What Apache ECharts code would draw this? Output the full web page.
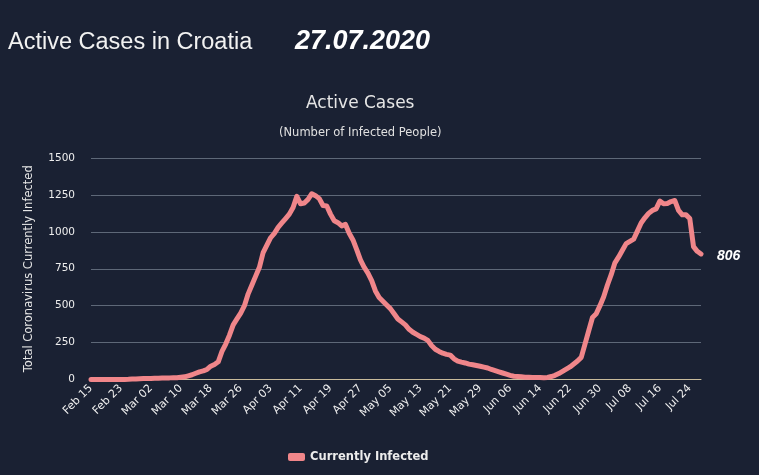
<!DOCTYPE html>
<html>
<head>
<meta charset="utf-8">
<script src="https://cdn.jsdelivr.net/npm/echarts@6/dist/echarts.min.js"></script>
<style>
html,body{margin:0;padding:0;background:#1a2133;}
#chart{width:759px;height:475px;}
</style>
</head>
<body>
<div id="chart"></div>
<script>
// Dates: daily from Feb 15 2020 to Jul 27 2020
const startDate = '2020-02-15';
const dayCount = 164;
const monthNames = ['Jan','Feb','Mar','Apr','May','Jun','Jul','Aug','Sep','Oct','Nov','Dec'];
const categories = [];
(function(){
  const d = new Date(startDate + 'T00:00:00Z');
  for (let i = 0; i < dayCount; i++) {
    const dd = String(d.getUTCDate()).padStart(2,'0');
    categories.push(monthNames[d.getUTCMonth()] + ' ' + dd);
    d.setUTCDate(d.getUTCDate() + 1);
  }
})();

const currentlyInfected = [
  0,0,0,0,0,0,0,0,0,0,          // Feb 15 - Feb 24
  1,3,3,5,6,7,7,9,9,10,         // Feb 25 - Mar 05
  11,11,12,12,16,18,25,32,42,52, // Mar 06 - Mar 15
  58,68,90,102,120,190,240,300,370,410, // Mar 16 - Mar 25
  450,500,580,640,700,760,860,910,960,990, // Mar 26 - Apr 04
  1030,1060,1090,1120,1165,1240,1190,1195,1220,1258, // Apr 05 - Apr 14
  1245,1225,1178,1175,1120,1075,1062,1040,1050,990, // Apr 15 - Apr 24
  945,880,810,760,720,670,600,555,530,505, // Apr 25 - May 04
  480,445,410,390,370,340,320,305,290,280, // May 05 - May 14
  265,230,205,190,178,170,165,140,125,118, // May 15 - May 24
  112,104,100,95,90,84,78,68,60,52, // May 25 - Jun 03
  44,36,28,22,20,18,16,15,14,14, // Jun 04 - Jun 13
  13,12,14,20,28,40,55,70,85,105, // Jun 14 - Jun 23
  125,150,240,330,420,445,500,560,640,710, // Jun 24 - Jul 03
  790,830,875,920,935,950,1005,1060,1095,1125, // Jul 04 - Jul 13
  1145,1155,1208,1190,1192,1205,1212,1145,1115,1115, // Jul 14 - Jul 23
  1090,900,868,850 // Jul 24 - Jul 27
];

const yTicks = [0, 250, 500, 750, 1000, 1250, 1500];
const headerTitle = 'Active Cases in Croatia';
const headerDate = '27.07.2020';
const chartTitle = 'Active Cases';
const chartSubtitle = '(Number of Infected People)';
const yAxisName = 'Total Coronavirus Currently Infected';
const seriesName = 'Currently Infected';
const lastLabel = '806';

const chart = echarts.init(document.getElementById('chart'));
const lineColor = '#f0868a';
chart.setOption({
  backgroundColor: '#1a2133',
  animation: false,
  graphic: [
    { type: 'text', left: 8, top: 31, style: { text: headerTitle, fill: '#f2f2f2', font: '23.5px "Liberation Sans", Arial, sans-serif' } },
    { type: 'text', left: 295, top: 28, style: { text: headerDate, fill: '#ffffff', font: 'italic bold 27px "Liberation Sans", Arial, sans-serif' } },
    { type: 'text', left: 306, top: 95, style: { text: chartTitle, fill: '#e6e6e6', font: '17px "DejaVu Sans", sans-serif' } },
    { type: 'text', left: 279, top: 127, style: { text: chartSubtitle, fill: '#e0e0e0', font: '11.5px "DejaVu Sans", sans-serif' } }
  ],
  legend: {
    left: 283, top: 446,
    itemWidth: 17, itemHeight: 8, itemGap: 5,
    textStyle: { color: '#ececec', fontFamily: 'DejaVu Sans', fontSize: 11.5, fontWeight: 'bold' },
    data: [{ name: seriesName, icon: 'roundRect' }]
  },
  grid: { left: 91, right: 58, top: 158, bottom: 95.5 },
  xAxis: {
    type: 'category',
    data: categories,
    boundaryGap: false,
    axisLine: { lineStyle: { color: '#c9bc9c', width: 1 } },
    axisTick: { show: false },
    axisLabel: {
      interval: 7, rotate: 45, color: '#eeeeee',
      fontFamily: 'DejaVu Sans', fontSize: 11, margin: 7
    },
    splitLine: { show: false }
  },
  yAxis: {
    type: 'value',
    min: yTicks[0], max: yTicks[yTicks.length - 1], interval: 250,
    name: yAxisName, nameLocation: 'middle', nameGap: 56,
    nameTextStyle: { color: '#e6e6e6', fontFamily: 'DejaVu Sans', fontSize: 11.5 },
    axisLine: { show: false },
    axisTick: { show: false },
    axisLabel: { color: '#eeeeee', fontFamily: 'DejaVu Sans', fontSize: 10.5, margin: 16,
      formatter: function(v){ return String(v); } },
    splitLine: { lineStyle: { color: '#5e6878', width: 1 } }
  },
  series: [{
    name: seriesName,
    type: 'line',
    data: currentlyInfected,
    showSymbol: false,
    symbol: 'circle',
    lineStyle: { color: lineColor, width: 5, cap: 'round', join: 'round' },
    itemStyle: { color: lineColor },
    endLabel: {
      show: true,
      formatter: function(){ return lastLabel; },
      color: '#ffffff',
      fontFamily: 'Liberation Sans',
      fontSize: 14,
      fontStyle: 'italic',
      fontWeight: 'bold',
      distance: 16,
      offset: [0, 2]
    }
  }]
});
</script>
</body>
</html>
